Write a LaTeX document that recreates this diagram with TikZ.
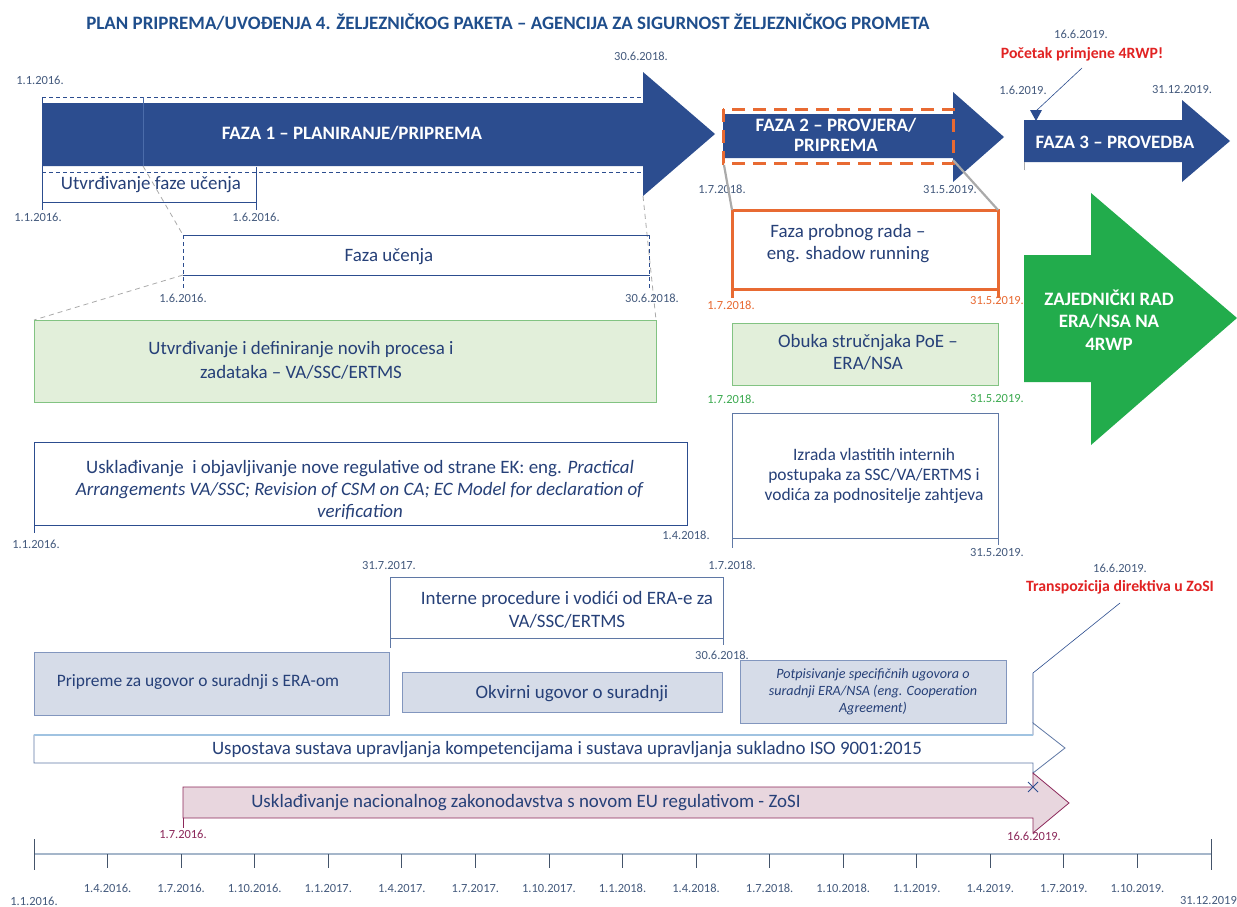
\documentclass[tikz,border=0pt]{standalone}
\usepackage{fontspec}
\setmainfont{Carlito}
\usetikzlibrary{calc}
\definecolor{navy}{RGB}{44,77,143}
\definecolor{txtblue}{RGB}{38,64,120}
\definecolor{titleblue}{RGB}{31,78,140}
\definecolor{datecol}{RGB}{68,90,125}
\definecolor{orng}{RGB}{232,106,50}
\definecolor{grn}{RGB}{34,172,76}
\definecolor{grnlbl}{RGB}{60,170,80}
\definecolor{grnfill}{RGB}{226,239,218}
\definecolor{grnline}{RGB}{130,195,130}
\definecolor{bgfill}{RGB}{214,220,232}
\definecolor{bgline}{RGB}{130,150,190}
\definecolor{boxline}{RGB}{95,120,165}
\definecolor{pinkfill}{RGB}{232,214,222}
\definecolor{maroon}{RGB}{140,40,90}
\definecolor{redt}{RGB}{225,35,35}
\definecolor{grayl}{RGB}{170,170,170}
\definecolor{axisc}{RGB}{165,182,202}
\definecolor{tickc}{RGB}{68,84,106}
\definecolor{ulight}{RGB}{160,195,225}
\definecolor{lineblue}{RGB}{75,108,170}
\begin{document}
\begin{tikzpicture}[x=1bp,y=-1bp,
  lbl/.style={font=\fontsize{12.5}{13}\selectfont, text=datecol, inner sep=0pt},
  btxt/.style={font=\fontsize{19}{23}\selectfont, text=txtblue, align=center, inner sep=0pt},
  wtxt/.style={font=\bfseries\fontsize{19}{21}\selectfont, text=white, align=center, inner sep=0pt},
  frame/.style={anchor=north west, inner sep=0pt, outer sep=0pt, line width=0.8bp},
  nline/.style={draw=navy, line width=0.7bp},
  bline/.style={draw=boxline, line width=0.7bp},
  gdash/.style={draw=grayl, line width=0.8bp, dash pattern=on 5bp off 4bp},
  ndash/.style={draw=navy, line width=0.6bp, dash pattern=on 4bp off 3bp},
  redlbl/.style={font=\bfseries\fontsize{15.8}{17}\selectfont, text=redt, inner sep=0pt}
]
\useasboundingbox (0,0) rectangle (1237,907);
\fill[white] (0,0) rectangle (1237,907);

% ---------- title
\node[font=\bfseries\fontsize{19}{22}\selectfont, text=titleblue, inner sep=0pt] (title) at (508,22) {PLAN PRIPREMA/UVOĐENJA 4. ŽELJEZNIČKOG PAKETA – AGENCIJA ZA SIGURNOST ŽELJEZNIČKOG PROMETA};

% ---------- FAZA 1
\draw[ndash] (42,97) -- (643,97);
\draw[ndash] (42,172) -- (643,172);
\fill[navy] (42,103) -- (643,103) -- (643,72) -- (715,134) -- (643,196) -- (643,166) -- (42,166) -- cycle;
\draw[lineblue, line width=0.5bp] (143,97) -- (143,166);
\node[wtxt] (f1) at (352,133) {FAZA 1 – PLANIRANJE/PRIPREMA};
\draw[nline] (42,97) -- (42,210);
\draw[nline] (42,202) -- (256,202);
\draw[nline] (256,167) -- (256,210);
\node[btxt] (utvf) at (151,185) {Utvrđivanje faze učenja};
\node[lbl] (d1) at (40,80) {1.1.2016.};
\node[lbl] (d2) at (641,56) {30.6.2018.};
\node[lbl] (d3) at (38,217) {1.1.2016.};
\node[lbl] (d4) at (256,217) {1.6.2016.};

% ---------- gray dashed links
\coordinate (fb) at (143,166);
\coordinate (fuL) at (183,235);
\coordinate (fuLb) at (183,275);
\coordinate (hb) at (643,196);
\draw[gdash] (fb) -- (fuL);
\draw[gdash] (fuLb) -- (34,320);
\draw[gdash] (hb) -- (656,320);

% ---------- Faza ucenja
\draw[nline] (183,235) -- (650,235);
\draw[nline] (183,275) -- (650,275);
\draw[ndash] (183,235) -- (183,290);
\draw[ndash] (649,235) -- (649,290);
\node[btxt] (fu) at (389,257) {Faza učenja};
\node[lbl] (d5) at (183,298) {1.6.2016.};
\node[lbl] (d6) at (652,298) {30.6.2018.};

% ---------- green box
\node[frame, draw=grnline, fill=grnfill, minimum width=622bp, minimum height=82bp] (gbox) at (34,320) {};
\node[btxt, font=\fontsize{19}{24}\selectfont] (gtxt) at (301,360) {Utvrđivanje i definiranje novih procesa i\\zadataka – VA/SSC/ERTMS};

% ---------- Uskladivanje EK
\node[frame, draw=navy, minimum width=653bp, minimum height=83bp] (ubox) at (34,442) {};
\draw[nline] (34,525) -- (34,533);
\node[btxt, font=\fontsize{19}{22.5}\selectfont] (utxt) at (360,490) {Usklađivanje\ \ i objavljivanje nove regulative od strane EK: eng. \textit{Practical}\\\textit{Arrangements VA/SSC; Revision of CSM on CA; EC Model for declaration of}\\\textit{verification}};
\node[lbl] (d7) at (36,544) {1.1.2016.};
\node[lbl] (d8) at (686,535) {1.4.2018.};

% ---------- FAZA 2
\fill[navy] (723,114) -- (953,114) -- (953,92) -- (1004,137) -- (953,182) -- (953,158) -- (723,158) -- cycle;
\draw[orng, line width=3bp, dash pattern=on 13bp off 8bp] (723,109) rectangle (953,163);
\node[wtxt, font=\bfseries\fontsize{19}{20.5}\selectfont] (f2) at (836,135) {FAZA 2 – PROVJERA/\\PRIPREMA};
\node[lbl] (d9) at (722,189) {1.7.2018.};
\node[lbl] (d10) at (950,190) {31.5.2019.};

% ---------- FAZA 3
\fill[navy] (1024,120) -- (1182,120) -- (1182,100) -- (1230,141) -- (1182,182) -- (1182,162) -- (1024,162) -- cycle;
\node[wtxt] (f3) at (1115,142) {FAZA 3 – PROVEDBA};
\draw[grayl, line width=0.6bp] (1024,162) -- (1024,170);
\node[lbl] (d11) at (1081,34) {16.6.2019.};
\node[redlbl] (poc) at (1082,54) {Početak primjene 4RWP!};
\coordinate (pocend) at (1082,68);
\coordinate (tri) at (1036,111);
\draw[navy, line width=0.6bp] (pocend) -- (tri);
\fill[navy] (1030,110) -- (1042,110) -- (1036,121) -- cycle;
\node[lbl] (d12) at (1023,90) {1.6.2019.};
\node[lbl] (d13) at (1182,90) {31.12.2019.};

% ---------- Faza probnog rada
\node[frame, draw=orng, line width=3bp, minimum width=266bp, minimum height=79bp] (pr) at (732,210) {};
\draw[orng, line width=3bp] (pr.south west) -- ++(0,9);
\draw[orng, line width=3bp] (pr.south east) -- ++(0,9);
\draw[grayl, line width=2.2bp] (724,165) -- (pr.north west);
\draw[grayl, line width=2.2bp] (953,160) -- (pr.north east);
\node[btxt, font=\fontsize{19}{22}\selectfont] (prt) at (848,244) {Faza probnog rada –\\eng. shadow running};
\node[lbl, text=orng] (d14) at (731,305) {1.7.2018.};
\node[lbl, text=orng] (d15) at (997,301) {31.5.2019.};

% ---------- Obuka
\node[frame, draw=grnline, fill=grnfill, minimum width=266bp, minimum height=62bp] (ob) at (732,323) {};
\node[btxt, font=\fontsize{19}{22}\selectfont] (obt) at (868,352) {Obuka stručnjaka PoE –\\ERA/NSA};
\node[lbl, text=grnlbl] (d16) at (731,399) {1.7.2018.};
\node[lbl, text=grnlbl] (d17) at (997,399) {31.5.2019.};

% ---------- Izrada
\node[frame, draw=boxline, minimum width=266bp, minimum height=125bp] (iz) at (732,413) {};
\draw[bline] (iz.south west) -- ++(0,10);
\draw[bline] (iz.south east) -- ++(0,7);
\node[btxt, font=\fontsize{17.5}{20.5}\selectfont] (izt) at (874,476) {Izrada vlastitih internih\\postupaka za SSC/VA/ERTMS i\\vodića za podnositelje zahtjeva};
\node[lbl] (d18) at (997,553) {31.5.2019.};
\node[lbl] (d19) at (732,565) {1.7.2018.};

% ---------- green arrow
\fill[grn] (1024,255) -- (1091,255) -- (1091,193) -- (1237,318) -- (1091,445) -- (1091,382) -- (1024,382) -- cycle;
\node[wtxt, font=\bfseries\fontsize{19}{22.5}\selectfont] (zr) at (1109,320) {ZAJEDNIČKI RAD\\ERA/NSA NA\\4RWP};

% ---------- Interne procedure
\node[frame, draw=boxline, minimum width=333bp, minimum height=61bp] (ip) at (390,577) {};
\draw[bline] (ip.south west) -- ++(0,10);
\draw[bline] (ip.south east) -- ++(0,7);
\node[btxt] (ipt) at (567,610) {Interne procedure i vodići od ERA-e za\\VA/SSC/ERTMS};
\node[lbl] (d20) at (389,566) {31.7.2017.};
\node[lbl] (d21) at (722,655) {30.6.2018.};

% ---------- cooperation boxes
\node[frame, draw=bgline, fill=bgfill, minimum width=355bp, minimum height=63bp] (pp) at (34,652) {};
\node[btxt, font=\fontsize{17.5}{21}\selectfont] (ppt) at (198,682) {Pripreme za ugovor o suradnji s ERA-om};
\node[frame, draw=bgline, fill=bgfill, minimum width=320bp, minimum height=40bp] (ok) at (402,672) {};
\node[btxt] (okt) at (572,694) {Okvirni ugovor o suradnji};
\node[frame, draw=bgline, fill=bgfill, minimum width=266bp, minimum height=63bp] (pt) at (740,660) {};
\node[btxt, font=\itshape\fontsize{14.2}{16.8}\selectfont] (ptt) at (873,692) {Potpisivanje specifičnih ugovora o\\suradnji ERA/NSA (eng. Cooperation\\Agreement)};

% ---------- Uspostava arrow
\filldraw[fill=white, draw=boxline, line width=0.8bp] (34,735) -- (1033,735) -- (1033,723) -- (1065,748) -- (1033,773) -- (1033,763) -- (34,763) -- cycle;
\draw[ulight, line width=1.2bp] (34,735) -- (1033,735);
\node[btxt] (ust) at (567,750) {Uspostava sustava upravljanja kompetencijama i sustava upravljanja sukladno ISO 9001:2015};

% ---------- Transpozicija callout
\node[lbl] (d22) at (1120,568) {16.6.2019.};
\node[redlbl] (tr) at (1120,587) {Transpozicija direktiva u ZoSI};
\coordinate (trend) at (1120,603);
\coordinate (trbend) at (1033,673);
\coordinate (trfoot) at (1033,723);
\draw[navy, line width=0.6bp] (trend) -- (trbend) -- (trfoot);

% ---------- ZoSI arrow
\filldraw[fill=pinkfill, draw=maroon, line width=0.8bp] (183,787) -- (1033,787) -- (1033,773) -- (1069,803) -- (1033,833) -- (1033,818) -- (183,818) -- cycle;
\draw[maroon, line width=0.8bp] (183,818) -- (183,828);
\node[btxt] (zt) at (526,803) {Usklađivanje nacionalnog zakonodavstva s novom EU regulativom - ZoSI};
\draw[navy, line width=1bp] (1028,782) -- (1038,792) (1028,792) -- (1038,782);
\node[lbl, text=maroon] (d23) at (183,834) {1.7.2016.};
\node[lbl, text=maroon] (d24) at (1034,836) {16.6.2019.};

% ---------- timeline
\draw[axisc, line width=1.6bp] (34,854) -- (1211,854);
\draw[tickc, line width=0.8bp] (34,839) -- (34,870);
\draw[tickc, line width=0.8bp] (1211,839) -- (1211,870);
\foreach \k/\t in {1/1.4.2016., 2/1.7.2016., 3/1.10.2016., 4/1.1.2017., 5/1.4.2017., 6/1.7.2017., 7/1.10.2017., 8/1.1.2018., 9/1.4.2018., 10/1.7.2018., 11/1.10.2018., 12/1.1.2019., 13/1.4.2019., 14/1.7.2019., 15/1.10.2019.}{
  \draw[tickc, line width=0.8bp] ({34+\k*73.5625},854) -- ++(0,14);
  \node[lbl] (t\k) at ({34+\k*73.5625},888) {\t};
}
\node[lbl] (t0) at (34,901) {1.1.2016.};
\node[lbl, anchor=east] (t16) at (1237,900) {31.12.2019};
\end{tikzpicture}
\end{document}
